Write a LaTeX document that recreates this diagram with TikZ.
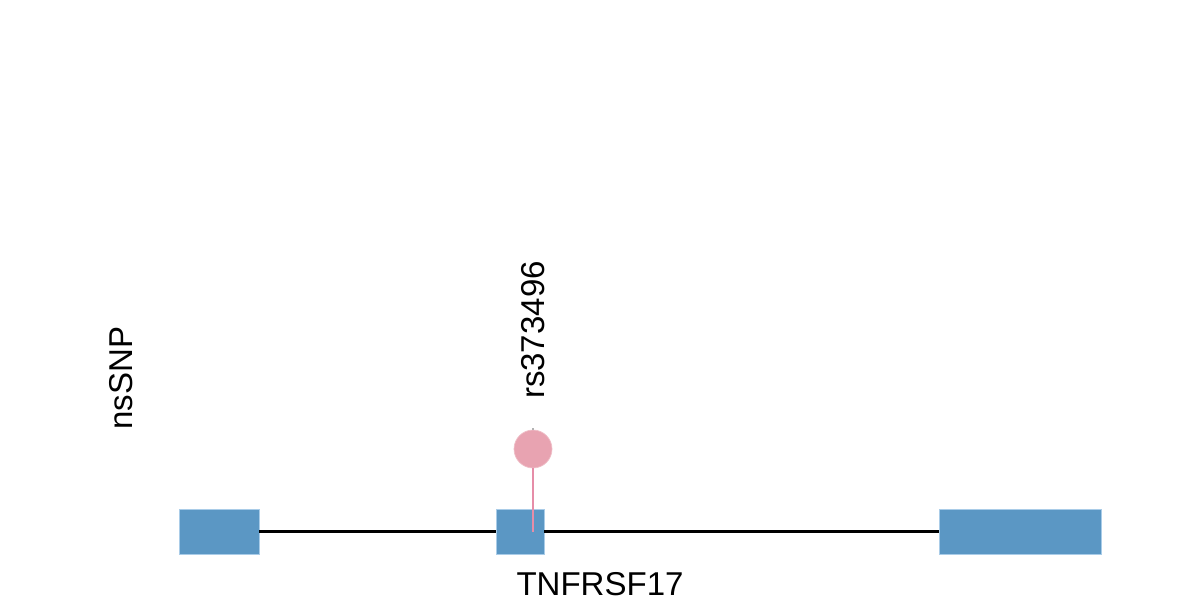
\documentclass[tikz,border=0pt]{standalone}
\usepackage{fontspec}
\setmainfont{Liberation Sans}
\usepackage{tikz}
\definecolor{exonblue}{HTML}{5B97C4}
\definecolor{exonedge}{HTML}{A9CCE8}
\definecolor{snppink}{HTML}{E8A3B1}
\definecolor{stalkpink}{HTML}{E68DA8}
\tikzset{
  exon/.style={draw=exonedge,line width=0.3pt,fill=exonblue,inner sep=0pt,minimum height=0.9cm},
  lbl/.style={font=\fontsize{18.8}{22}\selectfont,inner sep=0pt}
}

\begin{document}
\begin{tikzpicture}[x=0.02cm,y=-0.02cm]
            \useasboundingbox (0,0) rectangle (1200,600);

            % gene model
            \node [exon,minimum width=1.6cm] (ex1) at (219,531.5) {};
            \node [exon,minimum width=0.96cm] (ex2) at (520,531.5) {};
            \node [exon,minimum width=3.24cm] (ex3) at (1020,531.5) {};
            \draw [black,line width=1.2pt] (ex1.east) -- (ex2.west);
            \draw [black,line width=1.2pt] (ex2.east) -- (ex3.west);

            % snp lollipop
            \coordinate (snpbase) at (533,531.5);
            \node [circle,fill=snppink,draw=snppink!70!white,line width=0.4pt,minimum size=0.76cm,inner sep=0pt] (snp) at (533,449) {};
            \draw [stalkpink,line width=1.1pt] (snpbase) -- (snp.south);
            \coordinate (tick) at (533,418);
            \draw [gray!60,line width=0.6pt,dash pattern=on 1pt off 6pt] (snp.north) -- (tick);

            % labels
            \node [lbl,rotate=90] (rsid) at (533,330) {rs373496};
            \node [lbl,rotate=90] (track) at (121,378) {nsSNP};
            \node [lbl] (gene) at (600,584) {TNFRSF17};
        \end{tikzpicture}
\end{document}
